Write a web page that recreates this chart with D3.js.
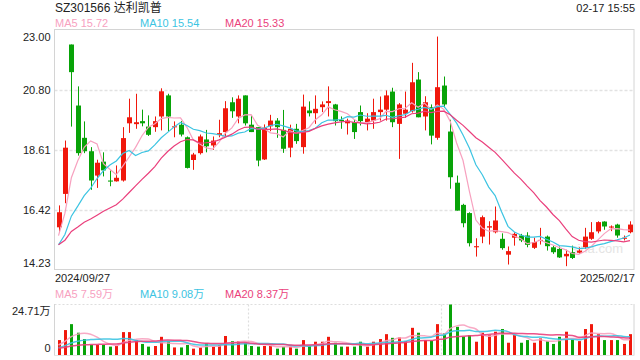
<!DOCTYPE html>
<html>
<head>
<meta charset="utf-8">
<script src="https://cdn.jsdelivr.net/npm/d3@7/dist/d3.min.js"></script>
<style>
  body { margin: 0; background: #fff; }
  svg { display: block; font-family: "Liberation Sans", Arial, "Noto Sans CJK SC", sans-serif; }
</style>
</head>
<body>
<svg id="chart" width="640" height="360"></svg>
<script>
// ---- data (price in yuan, volume in 万) ----
var opens  = [15.79,17.01,22.47,20.24,19.06,18.57,17.68,18.19,17.50,17.47,
              17.50,19.59,19.56,19.67,19.47,19.45,19.84,20.61,19.45,19.54,
              19.08,18.25,18.50,19.00,18.78,19.16,19.27,20.36,19.84,20.61,
              19.54,19.45,18.27,19.48,19.69,19.35,18.70,19.39,18.72,20.06,
              19.96,20.18,20.33,20.28,19.72,19.59,19.63,20.00,19.63,19.69,
              20.00,20.09,20.75,19.57,19.94,20.03,21.19,19.84,20.18,19.06,
              20.97,19.29,17.42,16.61,16.31,15.06,15.45,15.78,15.61,15.37,
              14.79,15.41,15.49,15.49,15.04,15.31,15.45,15.06,15.00,14.73,
              14.88,14.86,15.06,15.37,15.64,16.00,15.78,15.89,15.37,15.61];
var closes = [16.34,18.70,21.46,18.50,18.57,17.50,18.15,17.87,17.46,17.60,
              19.05,19.81,19.63,19.59,19.17,19.67,20.76,19.84,19.48,19.18,
              17.96,18.45,19.11,18.75,18.96,19.23,20.14,20.03,20.49,19.59,
              19.27,18.23,19.43,19.69,19.45,18.66,19.39,18.94,20.20,19.96,
              20.12,20.28,20.40,19.67,19.67,19.69,19.27,19.67,19.76,20.00,
              20.09,20.61,19.63,20.28,20.09,21.09,19.81,20.36,19.14,20.91,
              20.28,17.62,16.40,15.94,15.21,15.10,16.16,15.83,16.04,15.03,
              14.92,15.55,15.31,15.15,15.25,15.33,15.10,14.88,14.69,14.82,
              14.67,14.94,15.45,15.61,15.98,15.82,15.82,15.49,15.41,15.89];
var highs  = [16.59,18.96,22.47,20.94,19.66,18.72,18.26,18.53,17.87,18.05,
              19.45,20.49,20.67,20.09,19.88,19.84,20.87,20.67,19.66,19.67,
              19.11,18.51,19.18,19.35,19.11,19.72,20.40,20.54,20.61,20.61,
              19.88,19.45,19.55,19.90,19.78,20.08,19.54,19.57,20.64,20.39,
              20.61,20.39,20.94,20.30,19.84,19.76,19.72,20.24,19.96,20.49,
              20.57,20.79,20.89,20.33,20.75,21.80,21.46,20.58,20.28,22.76,
              21.30,19.72,17.68,16.65,16.34,15.39,16.22,16.01,16.55,15.57,
              15.09,15.61,15.55,15.61,15.41,15.77,15.49,15.12,15.09,14.97,
              15.12,15.06,15.77,15.98,16.01,16.01,15.86,15.92,15.49,16.01];
var lows   = [15.61,16.67,19.47,18.41,18.50,17.16,17.23,17.65,17.29,17.46,
              17.46,19.24,19.39,19.48,19.13,19.28,19.33,19.30,19.08,19.11,
              17.94,17.89,18.45,18.53,18.62,19.08,19.11,19.79,19.59,19.51,
              19.27,18.02,18.25,19.30,19.06,18.51,18.35,18.84,18.48,19.84,
              19.57,20.00,19.84,19.51,19.39,19.18,19.02,19.51,19.33,19.39,
              19.69,19.69,19.45,18.29,19.79,19.98,19.81,19.33,18.82,18.99,
              20.16,17.20,16.40,15.79,15.09,14.72,15.21,15.16,15.57,14.97,
              14.43,15.12,15.25,15.06,15.00,15.16,14.94,14.82,14.67,14.37,
              14.63,14.82,15.00,15.33,15.57,15.70,15.65,15.41,15.31,15.57];
var volumes = [7.3,12.2,15.1,10.9,7.8,4.9,4.9,4.9,4.1,4.4,
               11.2,11.2,7.3,5.4,4.1,4.4,8.9,6.8,3.7,3.7,
               4.9,3.1,3.7,5.7,4.1,4.9,9.3,6.8,6.8,6.0,
               4.4,4.1,4.4,4.4,3.1,4.1,4.1,3.1,7.3,4.4,
               6.5,6.5,8.9,6.0,4.1,4.1,4.1,6.5,4.1,6.5,
               7.8,10.2,8.4,8.6,6.8,13.3,10.9,7.3,7.0,15.1,
               10.6,24.71,13.8,8.9,9.7,6.5,10.9,9.7,11.4,12.7,
               6.0,10.1,6.0,7.3,6.0,8.1,6.8,5.4,8.9,11.4,
               7.6,6.8,12.7,15.1,10.2,7.3,7.3,7.3,5.4,10.2];
// sessions before the window, only feed the moving averages (estimated from the MA start points)
var priorCloses  = [15.32,15.10,15.25,15.06,15.18,15.30,15.02,15.12,15.20,14.95,
                    14.90,14.78,14.85,14.70,14.82,14.60,15.00,15.40,16.10];
var priorVolumes = [3.1,2.8,3.3,2.9,3.0,3.2,2.7,3.1,2.9,3.0,
                    2.2,2.4,2.1,2.5,2.3,3.2,3.8,4.6,5.6];

var priceTicks  = [23.00, 20.80, 18.61, 16.42, 14.23];
var volumeTicks = [24.71, 0];
var dateLabels  = ["2024/09/27", "2025/02/17"];
var maPeriods   = [5, 10, 20];
var maColors    = ["#f7a1bf", "#3cc4e2", "#ea3f7c"];
var priceMaText = ["15.72", "15.54", "15.33"];
var volMaText   = ["7.59万", "9.08万", "8.37万"];

var RED = "#f0180c", GREEN = "#08a308";

var svg = d3.select("#chart");
var left = 54.5, right = 634;
var n = closes.length;

var x = d3.scaleBand().domain(d3.range(n)).range([left, right]).padding(0.25);
var xc = i => x(i) + x.bandwidth() / 2;
var y = d3.scaleLinear().domain([14.23, 23.00]).range([270, 30]);
var yv = d3.scaleLinear().domain([0, 24.71]).range([355, 304.5]);

// moving average helper
function movingAvg(prior, values, p) {
    var all = prior.concat(values);
    var off = prior.length;
    return values.map((v, i) => d3.mean(all.slice(off + i - p + 1, off + i + 1)));
}

// ---- header texts ----
svg.append("text").attr("x", 55).attr("y", 12).attr("font-size", 12).attr("fill", "#222")
    .text("SZ301566 达利凯普");
svg.append("text").attr("x", 635).attr("y", 12).attr("font-size", 11).attr("fill", "#222")
    .attr("text-anchor", "end").text("02-17 15:55");

var legX = [55, 140, 225];
maPeriods.forEach((p, k) => {
    svg.append("text").attr("x", legX[k]).attr("y", 27).attr("font-size", 11)
        .attr("fill", maColors[k]).text("MA" + p + " " + priceMaText[k]);
    svg.append("text").attr("x", legX[k]).attr("y", 298).attr("font-size", 11)
        .attr("fill", maColors[k]).text("MA" + p + " " + volMaText[k]);
});

// ---- price panel frame and grid ----
svg.append("g").selectAll("line").data(priceTicks.slice(1, 4)).enter().append("line")
    .attr("x1", left).attr("x2", right)
    .attr("y1", d => Math.round(y(d)) + 0.5).attr("y2", d => Math.round(y(d)) + 0.5)
    .attr("stroke", "#e2e2e2").attr("stroke-width", 1.5).attr("stroke-dasharray", "3,2");
svg.append("rect").attr("x", left).attr("y", 29.5).attr("width", right - left).attr("height", 240)
    .attr("fill", "none").attr("stroke", "#d4d4d4");

// watermark
svg.append("text").attr("x", 623).attr("y", 253).attr("text-anchor", "end")
    .attr("font-size", 13).attr("fill", "#e4e4e4").text("sina.com");

var yAxis = svg.append("g").attr("transform", "translate(" + left + ",0)")
    .call(d3.axisLeft(y).tickValues(priceTicks).tickSize(0).tickPadding(4).tickFormat(d3.format(".2f")));
yAxis.select(".domain").remove();
yAxis.selectAll("text").attr("font-size", 11).attr("fill", "#222")
    .attr("font-family", "Liberation Sans, Arial, sans-serif")
    .attr("dy", d => d === 23.00 ? "0.95em" : d === 14.23 ? "-0.3em" : "0.32em");

// ---- candles ----
var candles = svg.append("g").selectAll("g").data(d3.range(n)).enter().append("g");
candles.append("line")
    .attr("x1", i => Math.round(xc(i)) + 0.5).attr("x2", i => Math.round(xc(i)) + 0.5)
    .attr("y1", i => y(highs[i])).attr("y2", i => y(lows[i]))
    .attr("stroke", i => closes[i] >= opens[i] ? RED : GREEN);
candles.append("rect")
    .attr("x", i => Math.round(xc(i)) - 2)
    .attr("width", 5)
    .attr("y", i => y(Math.max(opens[i], closes[i])))
    .attr("height", i => Math.max(1, Math.abs(y(opens[i]) - y(closes[i]))))
    .attr("fill", i => closes[i] >= opens[i] ? RED : GREEN);

// price moving averages
maPeriods.forEach((p, k) => {
    var ma = movingAvg(priorCloses, closes, p);
    svg.append("path").datum(ma)
        .attr("d", d3.line().x((d, i) => xc(i)).y(d => y(d)))
        .attr("fill", "none").attr("stroke", maColors[k]).attr("stroke-width", 1.2);
});

// ---- date labels ----
svg.append("text").attr("x", 55).attr("y", 282).attr("font-size", 11).attr("fill", "#222").text(dateLabels[0]);
svg.append("text").attr("x", 635).attr("y", 282).attr("font-size", 11).attr("fill", "#222")
    .attr("text-anchor", "end").text(dateLabels[1]);

// ---- volume panel ----
var vGrid = svg.append("g").attr("stroke", "#dedede").attr("stroke-width", 1.2).attr("stroke-dasharray", "2,2");
vGrid.append("line").attr("x1", left).attr("x2", right).attr("y1", 304.5).attr("y2", 304.5);
[1, 2].forEach(t => {
    var gx = Math.round(left + (right - left) * t / 3) + 0.5;
    vGrid.append("line").attr("x1", gx).attr("x2", gx).attr("y1", 304.5).attr("y2", 355);
});
svg.append("line").attr("x1", left).attr("x2", left).attr("y1", 304).attr("y2", 355.5).attr("stroke", "#d4d4d4");
svg.append("line").attr("x1", right).attr("x2", right).attr("y1", 304).attr("y2", 355.5).attr("stroke", "#d4d4d4");
svg.append("line").attr("x1", left).attr("x2", right).attr("y1", 355.5).attr("y2", 355.5).attr("stroke", "#e4e4e4");

svg.append("g").selectAll("rect").data(d3.range(n)).enter().append("rect")
    .attr("x", i => Math.round(xc(i)) - 1)
    .attr("width", 3)
    .attr("y", i => yv(volumes[i]))
    .attr("height", i => yv(0) - yv(volumes[i]))
    .attr("fill", i => closes[i] >= opens[i] ? RED : GREEN);

maPeriods.forEach((p, k) => {
    var ma = movingAvg(priorVolumes, volumes, p);
    svg.append("path").datum(ma)
        .attr("d", d3.line().curve(d3.curveMonotoneX).x((d, i) => xc(i)).y(d => yv(d)))
        .attr("fill", "none").attr("stroke", maColors[k]).attr("stroke-width", 1.5).attr("opacity", 0.9);
});

var vAxis = svg.append("g").attr("transform", "translate(" + left + ",0)")
    .call(d3.axisLeft(yv).tickValues(volumeTicks).tickSize(0).tickPadding(4)
        .tickFormat(d => d === 0 ? "0" : d3.format(".2f")(d) + "万"));
vAxis.select(".domain").remove();
vAxis.selectAll("text").attr("font-size", 11).attr("fill", "#222")
    .attr("font-family", "Liberation Sans, Arial, Noto Sans CJK SC, sans-serif")
    .attr("dy", d => d === 0 ? "-0.3em" : "0.95em");
</script>
</body>
</html>
